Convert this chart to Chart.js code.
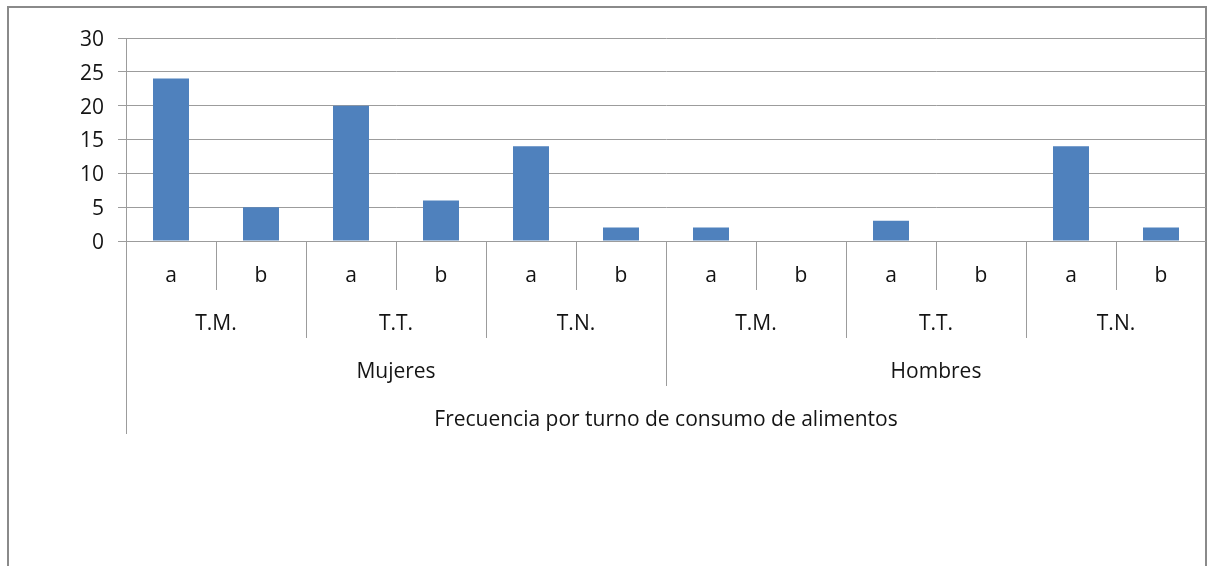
<!DOCTYPE html>
<html>
<head>
<meta charset="utf-8">
<script src="https://cdn.jsdelivr.net/npm/chart.js@4/dist/chart.umd.min.js"></script>
<style>
  html, body { margin: 0; padding: 0; background: #ffffff; }
  #wrap { position: relative; width: 1207px; height: 566px; }
</style>
</head>
<body>
<div id="wrap"><canvas id="c" width="1207" height="566"></canvas></div>
<script>
// ---- data ----
const subLabels = ['a', 'b', 'a', 'b', 'a', 'b', 'a', 'b', 'a', 'b', 'a', 'b'];
const turnLabels = ['T.M.', 'T.T.', 'T.N.', 'T.M.', 'T.T.', 'T.N.'];
const groupLabels = ['Mujeres', 'Hombres'];
const axisTitle = 'Frecuencia por turno de consumo de alimentos';
const values = [24, 5, 20, 6, 14, 2, 2, 0, 3, 0, 14, 2];
const yTicks = [0, 5, 10, 15, 20, 25, 30];

// ---- style ----
const FONT = '"Open Sans", Lato, "Liberation Sans", sans-serif';
const FONT_SIZE = 21;
const TEXT_COLOR = '#141414';
const LINE_COLOR = '#9c9c9c';
const BAR_COLOR = '#4f81bd';

const multiLevelAxis = {
  id: 'multiLevelAxis',
  beforeDraw(chart) {
    const ctx = chart.ctx;
    ctx.save();
    ctx.fillStyle = '#ffffff';
    ctx.fillRect(0, 0, chart.width, chart.height);
    // outer frame
    ctx.strokeStyle = '#8a8a8a';
    ctx.lineWidth = 2;
    ctx.beginPath();
    ctx.moveTo(8, chart.height + 2);
    ctx.lineTo(8, 7);
    ctx.lineTo(1206, 7);
    ctx.lineTo(1206, chart.height + 2);
    ctx.stroke();
    ctx.restore();
  },
  afterDraw(chart) {
    const ctx = chart.ctx;
    const x = chart.scales.x;
    const area = chart.chartArea;
    const n = subLabels.length;
    const edge = (i) => {
      if (i <= 0) return x.left;
      if (i >= n) return x.right;
      return (x.getPixelForValue(i - 1) + x.getPixelForValue(i)) / 2;
    };
    const y0 = area.bottom;
    const sepEnds = [y0 + 49, y0 + 97, y0 + 145, y0 + 193];
    const baselines = [y0 + 41, y0 + 89, y0 + 137, y0 + 185];
    ctx.save();
    ctx.strokeStyle = LINE_COLOR;
    ctx.lineWidth = 1;
    const vline = (px, yEnd) => {
      const xx = Math.round(px) + 0.5;
      ctx.beginPath();
      ctx.moveTo(xx, y0);
      ctx.lineTo(xx, yEnd);
      ctx.stroke();
    };
    for (let i = 1; i < n; i++) {
      let level = 0;
      if (i % 2 === 0) level = 1;
      if (i % 6 === 0) level = 2;
      vline(edge(i), sepEnds[level]);
    }
    vline(x.left, sepEnds[3]);

    ctx.fillStyle = TEXT_COLOR;
    ctx.font = FONT_SIZE + 'px ' + FONT;
    ctx.textAlign = 'center';
    ctx.textBaseline = 'alphabetic';
    subLabels.forEach((lab, i) => {
      ctx.fillText(lab, x.getPixelForValue(i), baselines[0]);
    });
    turnLabels.forEach((lab, j) => {
      const c = (edge(j * 2) + edge(j * 2 + 2)) / 2;
      ctx.fillText(lab, c, baselines[1]);
    });
    groupLabels.forEach((lab, j) => {
      const c = (edge(j * 6) + edge(j * 6 + 6)) / 2;
      ctx.fillText(lab, c, baselines[2]);
    });
    ctx.fillText(axisTitle, (x.left + x.right) / 2, baselines[3]);
    ctx.restore();
  }
};

new Chart(document.getElementById('c'), {
  type: 'bar',
  data: {
    labels: subLabels.map((s, i) => s + i),
    datasets: [{
      data: values,
      backgroundColor: BAR_COLOR,
      borderWidth: 0,
      barPercentage: 0.4,
      categoryPercentage: 1.0
    }]
  },
  options: {
    responsive: false,
    animation: false,
    devicePixelRatio: 1,
    layout: { padding: { top: 38, right: 1, left: 0, bottom: 0 } },
    plugins: { legend: { display: false }, tooltip: { enabled: false } },
    scales: {
      x: {
        offset: true,
        grid: { display: false },
        border: { display: false },
        ticks: { display: false },
        afterFit(scale) { scale.height = 325; }
      },
      y: {
        min: 0,
        max: 30,
        afterBuildTicks(scale) { scale.ticks = yTicks.map(v => ({ value: v })); },
        grid: { color: LINE_COLOR, lineWidth: 1, tickLength: 8, drawTicks: true },
        border: { display: true, color: LINE_COLOR, width: 1 },
        ticks: {
          color: TEXT_COLOR,
          font: { family: FONT, size: FONT_SIZE },
          padding: 14,
          labelOffset: 2
        },
        afterFit(scale) { scale.width = 126; }
      }
    }
  },
  plugins: [multiLevelAxis]
});
</script>
</body>
</html>
